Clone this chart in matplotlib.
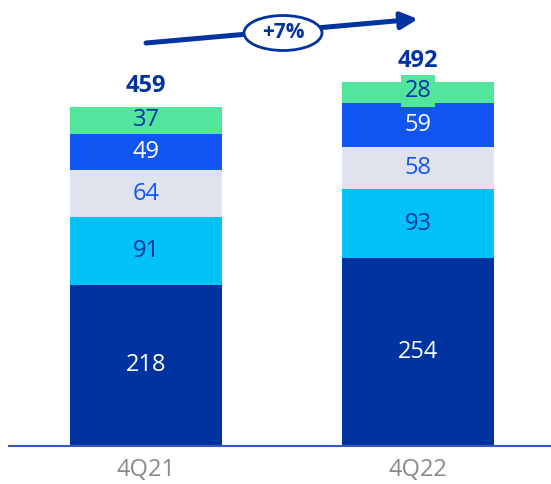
# 4Q21 vs 4Q22 stacked bars
import matplotlib.pyplot as plt
from matplotlib.patches import Ellipse
import numpy as np

# data
periods = ["4Q21", "4Q22"]
seg_218 = [218, 254]
seg_91 = [91, 93]
seg_64 = [64, 58]
seg_49 = [49, 59]
seg_37 = [37, 28]
totals = [459, 492]
growth_label = "+7%"

segments = [seg_218, seg_91, seg_64, seg_49, seg_37]
colors = ["#0033A0", "#00C2F7", "#DFE3EE", "#1155F5", "#52E59D"]
text_colors = ["white", "#0033A0", "#1155F5", "white", "#0033A0"]

plt.rcParams["font.family"] = ["Open Sans", "DejaVu Sans"]

fig = plt.figure(figsize=(5.51, 4.84), dpi=100)
ax = fig.add_axes([9 / 551, 38 / 484, 542 / 551, 446 / 484])

x = np.arange(len(periods))
width = 0.56
bottom = np.zeros(len(periods))
for vals, col, tcol in zip(segments, colors, text_colors):
    ax.bar(x, vals, width, bottom=bottom, color=col, edgecolor="none")
    for i, v in enumerate(vals):
        y = bottom[i] + v / 2
        if v < 30:
            ax.text(x[i], y + 2, str(v), ha="center", va="center", fontsize=17,
                    color=tcol, bbox=dict(boxstyle="square,pad=0.15", fc=col, ec="none"))
        else:
            ax.text(x[i], y, str(v), ha="center", va="center", fontsize=17, color=tcol)
    bottom += vals

for i, t in enumerate(totals):
    ax.text(x[i], t + 12, str(t), ha="center", va="bottom", fontsize=17,
            fontweight="bold", color="#0033A0")

ax.set_xlim(-0.504, 1.489)
ax.set_ylim(0, 446 / 0.7395)
for s in ["top", "right", "left"]:
    ax.spines[s].set_visible(False)
ax.spines["bottom"].set_color("#3358C0")
ax.spines["bottom"].set_linewidth(1.5)
ax.set_yticks([])
ax.set_xticks(x)
ax.set_xticklabels(periods, fontsize=17, color="#8A8A8A")
ax.tick_params(axis="x", length=0, pad=9)

# growth arrow
ax.annotate("", xy=(418 / 551, 1 - 19 / 484), xytext=(146 / 551, 1 - 43 / 484),
            xycoords=fig.transFigure, textcoords=fig.transFigure,
            arrowprops=dict(arrowstyle="-|>,head_length=1.0,head_width=0.5",
                            color="#0033A0", lw=3.6, shrinkA=0, shrinkB=0))
ell = Ellipse((283 / 551, 1 - 33 / 484), 78 / 551, 35 / 484, transform=fig.transFigure,
              facecolor="white", edgecolor="#0033A0", lw=2, zorder=5)
fig.patches.append(ell)
fig.text(283 / 551, 1 - 32 / 484, growth_label, ha="center", va="center", fontsize=15,
         fontweight="bold", color="#0033A0", zorder=6)

fig.savefig("out.png", dpi=100)
